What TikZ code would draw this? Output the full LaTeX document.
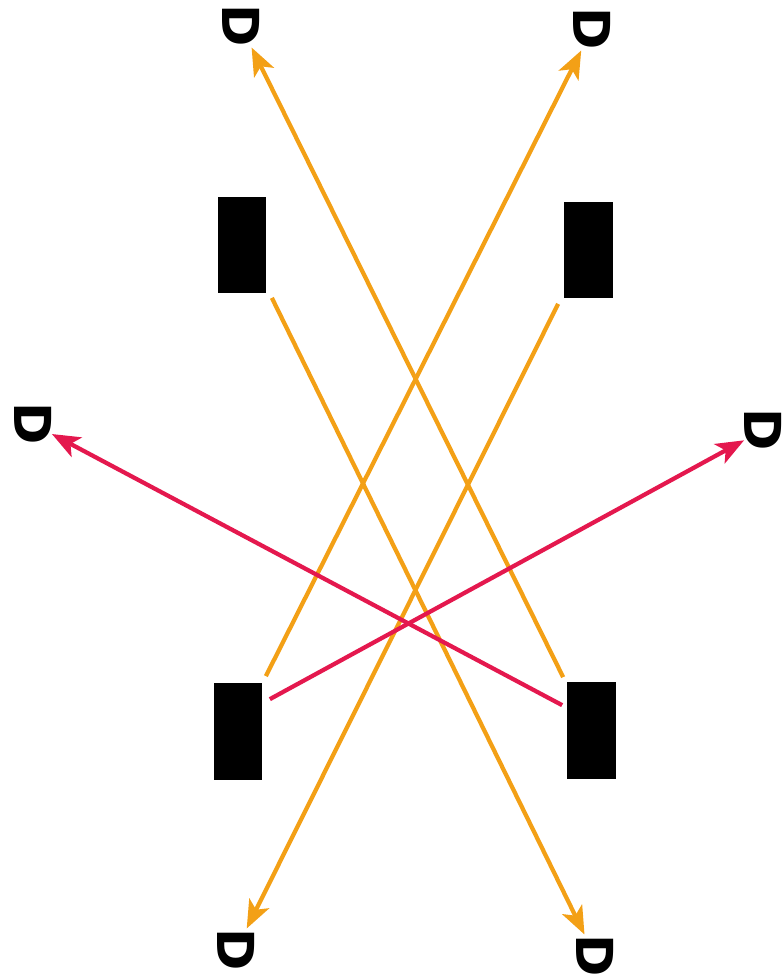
\documentclass[tikz,border=0pt]{standalone}
\usepackage{fontspec}
\setmainfont{DejaVu Sans}
\usetikzlibrary{calc,arrows.meta}
\definecolor{beamorange}{RGB}{243,160,22}
\definecolor{beamred}{RGB}{228,24,78}

\begin{document}
\begin{tikzpicture}[x=0.02cm, y=-0.02cm,
  block/.style={fill=black, inner sep=0, minimum width=0.98cm, minimum height=1.94cm},
  det/.style={inner sep=0, rotate=-90, font=\fontsize{29}{29}\selectfont\bfseries},
  orangebeam/.style={color=beamorange, line width=0.085cm, -{Stealth[length=0.56cm, width=0.44cm, inset=0.14cm]}},
  redbeam/.style={color=beamred, line width=0.085cm, -{Stealth[length=0.56cm, width=0.44cm, inset=0.14cm]}}]

\useasboundingbox (0,0) rectangle (783,977);

\node[block] (tl) at (242,245) {};
\node[block] (tr) at (588,250) {};
\node[block] (bl) at (238,731) {};
\node[block] (br) at (591,730) {};

\node[det] (dtl) at (241,26) {D};
\node[det] (dtr) at (592,29) {D};
\node[det] (dl) at (33,424) {D};
\node[det] (dr) at (763,430) {D};
\node[det] (dbl) at (236,950) {D};
\node[det] (dbr) at (595,956) {D};

\draw[orangebeam] ($(tl.south east)+(5,4)$) -- (dbr);
\draw[orangebeam] ($(tr.south west)+(-5,5)$) -- (dbl);
\draw[orangebeam] ($(bl.north east)+(3,-6)$) -- (dtr);
\draw[orangebeam] ($(br.north west)+(-3,-4)$) -- (dtl);

\draw[redbeam] ($(br.north west)+(-4,24)$) -- (dl);
\draw[redbeam] ($(bl.north east)+(7,17)$) -- (dr);
\end{tikzpicture}
\end{document}
